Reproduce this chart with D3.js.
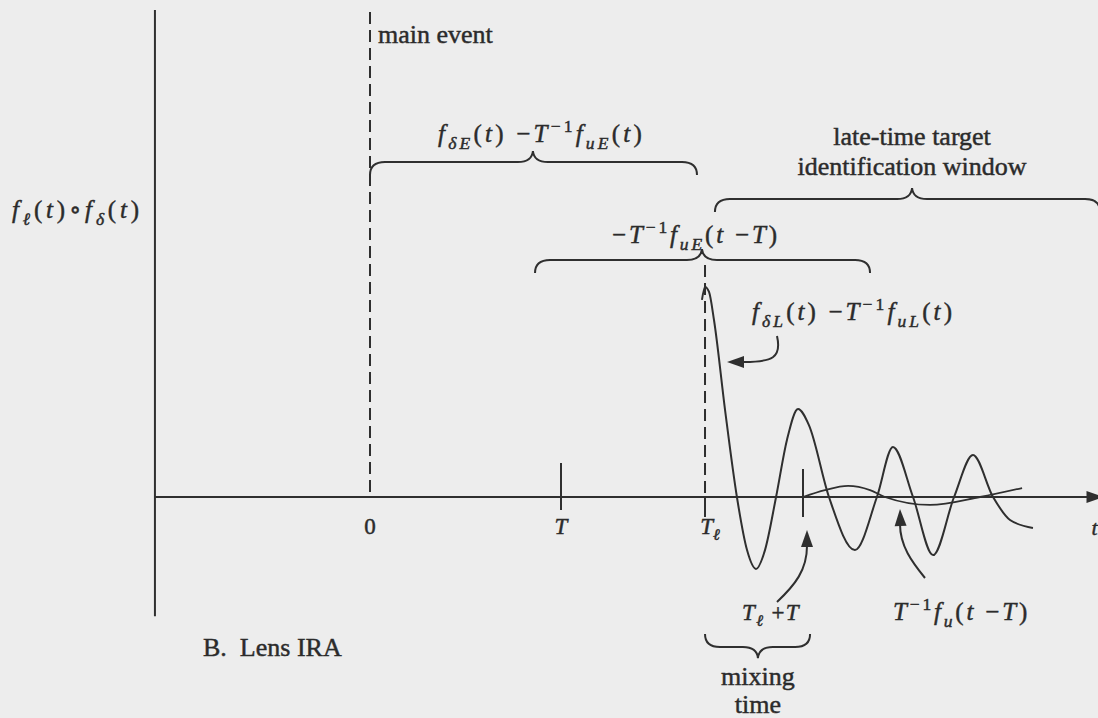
<!DOCTYPE html>
<html>
<head>
<meta charset="utf-8">
<script src="https://cdn.jsdelivr.net/npm/d3@7"></script>
<style>
  html, body { margin: 0; padding: 0; background: #ededed; }
  svg { display: block; }
  text { fill: #2b2b2b; stroke: #2b2b2b; stroke-width: 0.45px; white-space: pre; }
</style>
</head>
<body>
<script>
// time is in units of the clock period T, amplitude relative to the first late-time peak
const tickTimes = [0, 1, 1.754, 2.267];
const tickNames = ["0", "T", "T_{ℓ}", "T_{ℓ} +T"];

// f_δL(t) - T^-1 f_uL(t)
const lateTimes = [1.738, 1.754, 1.775, 1.801, 1.859, 1.921, 1.974, 2.021, 2.068, 2.126,
  2.183, 2.241, 2.298, 2.403, 2.539, 2.654, 2.738, 2.843, 2.948, 3.058, 3.157, 3.262, 3.351, 3.471];
const lateValues = [0.943, 1.005, 0.981, 0.847, 0.416, 0, -0.254, -0.344, -0.254, 0,
  0.273, 0.421, 0.344, 0, -0.254, 0, 0.239, 0, -0.278, 0, 0.201, 0, -0.110, -0.148];

// T^-1 f_u(t - T)
const shiftTimes = [2.267, 2.382, 2.503, 2.618, 2.696, 2.932, 3.194, 3.414];
const shiftValues = [0, 0.033, 0.053, 0.033, 0, -0.038, 0, 0.043];

// braces: span and tip in time, level in amplitude
const braceFrom = [0, 1.806, 0.864, 1.754];
const braceTo = [1.712, 3.822, 2.618, 2.304];
const braceTip = [0.853, 2.838, 1.738, 2.031];
const braceLevel = [1.603, 1.426, 1.134, -0.718];

// dashed event markers
const eventTimes = [0, 1.754];
const eventTops = [2.32, 1.11];

const timeRange = [-1.126, 3.83];
const ampRange = [-0.57, 2.33];

const mainEventText = "main event";
const windowText = ["late-time target", "identification window"];
const mixingText = ["mixing", "time"];
const captionText = "B.  Lens IRA";
const yLabel = "f_{ℓ}(t)∘f_{δ}(t)";
const earlyLabel = "f_{δE}(t) −T^{−1}f_{uE}(t)";
const shiftedLabel = "−T^{−1}f_{uE}(t −T)";
const lateLabel = "f_{δL}(t) −T^{−1}f_{uL}(t)";
const prepulseLabel = "T^{−1}f_{u}(t −T)";

const W = 1098, H = 718;
const INK = "#2f2f2f";
const SERIF = "'Liberation Serif', 'Times New Roman', Times, 'Noto Serif', 'DejaVu Serif', serif";

const x = d3.scaleLinear().domain([0, 1]).range([370, 561]);
const y = d3.scaleLinear().domain([0, 1]).range([497, 288]);

const svg = d3.select("body").append("svg")
  .attr("width", W).attr("height", H)
  .attr("xmlns", "http://www.w3.org/2000/svg");

svg.append("rect").attr("width", W).attr("height", H).attr("fill", "#ededed");

const ROMAN = "()−+0123456789∘ ";

function parseMath(s) {
  const out = [];
  let i = 0;
  while (i < s.length) {
    if ((s[i] === "_" || s[i] === "^") && s[i + 1] === "{") {
      const j = s.indexOf("}", i);
      out.push({ t: s.slice(i + 2, j), k: s[i] === "_" ? "sub" : "sup" });
      i = j + 1;
    } else {
      let j = i;
      while (j < s.length && !((s[j] === "_" || s[j] === "^") && s[j + 1] === "{")) j++;
      out.push({ t: s.slice(i, j), k: "base" });
      i = j;
    }
  }
  return out;
}

function mathText(src, px, py, size, anchor, width) {
  const t = svg.append("text")
    .attr("x", px).attr("y", py)
    .attr("font-family", SERIF)
    .attr("font-size", size)
    .attr("text-anchor", anchor);
  let shift = 0;
  parseMath(src).forEach((seg) => {
    const target = seg.k === "sub" ? 0.28 * size : seg.k === "sup" ? -0.42 * size : 0;
    const fs = seg.k === "base" ? size : 0.7 * size;
    // split into roman / italic runs
    const runs = [];
    for (const ch of seg.t) {
      const it = seg.k === "sup" ? false : !ROMAN.includes(ch);
      if (runs.length && runs[runs.length - 1].it === it) runs[runs.length - 1].s += ch;
      else runs.push({ s: ch, it });
    }
    runs.forEach((r) => {
      t.append("tspan")
        .attr("dy", target - shift)
        .attr("font-size", fs)
        .attr("font-style", r.it ? "italic" : "normal")
        .text(r.s);
      shift = target;
    });
  });
  if (width) {
    const w = t.node().getComputedTextLength();
    const n = t.text().length;
    t.style("letter-spacing", Math.max(0, (width - w) / n).toFixed(2) + "px");
  }
  return t;
}

function plainText(s, px, py, anchor) {
  return svg.append("text")
    .attr("x", px).attr("y", py)
    .attr("font-family", SERIF)
    .attr("font-size", 26)
    .attr("text-anchor", anchor)
    .text(s);
}

function bracePath(x0, x1, xm, yl, s) {
  const d = 13 * s, tip = 11 * s, r = 15;
  return `M${x0},${yl + d} Q${x0},${yl} ${x0 + r},${yl} L${xm - r},${yl} ` +
    `Q${xm - 1},${yl} ${xm},${yl - tip} Q${xm + 1},${yl} ${xm + r},${yl} ` +
    `L${x1 - r},${yl} Q${x1},${yl} ${x1},${yl + d}`;
}

function arrowHead(tx, ty, angle) {
  const a = angle * Math.PI / 180, L = 17, w = 6;
  const ux = Math.cos(a), uy = Math.sin(a);
  const bx = tx - L * ux, by = ty - L * uy;
  svg.append("path")
    .attr("d", `M${tx},${ty} L${bx - w * uy},${by + w * ux} L${bx + w * uy},${by - w * ux} Z`)
    .attr("fill", INK);
}

const strokeStyle = (sel) => sel.attr("fill", "none").attr("stroke", INK).attr("stroke-width", 2);

// axes
svg.append("line")
  .attr("x1", x(timeRange[0])).attr("x2", x(timeRange[0]))
  .attr("y1", y(ampRange[1])).attr("y2", y(ampRange[0]))
  .call(strokeStyle);
svg.append("line")
  .attr("x1", x(timeRange[0])).attr("x2", x(timeRange[1]))
  .attr("y1", y(0)).attr("y2", y(0))
  .call(strokeStyle);
arrowHead(x(timeRange[1]) + 2, y(0), 0);
mathText("t", x(timeRange[1]) - 10, y(0) + 38, 22, "start");

// dashed event lines
eventTimes.forEach((t, i) => {
  svg.append("line")
    .attr("x1", x(t)).attr("x2", x(t))
    .attr("y1", y(eventTops[i])).attr("y2", y(0))
    .attr("stroke-dasharray", "12,6")
    .call(strokeStyle);
});

// ticks
const tickReach = [[0, 0], [34, 13], [0, 20], [28, 20]];
tickTimes.forEach((t, i) => {
  if (!tickReach[i][0] && !tickReach[i][1]) return;
  svg.append("line")
    .attr("x1", x(t)).attr("x2", x(t))
    .attr("y1", y(0) - tickReach[i][0]).attr("y2", y(0) + tickReach[i][1])
    .call(strokeStyle);
});
mathText(tickNames[0], x(tickTimes[0]), 534, 23, "middle");
mathText(tickNames[1], x(tickTimes[1]), 534, 23, "middle");
mathText(tickNames[2], x(tickTimes[2]) + 5, 534, 23, "middle");
mathText(tickNames[3], x(tickTimes[3]) - 32, 620, 23, "middle", 58);

// curves
const line = d3.line().x((d) => x(d[0])).y((d) => y(d[1])).curve(d3.curveMonotoneX);
svg.append("path")
  .attr("d", line(d3.zip(lateTimes, lateValues)))
  .call(strokeStyle);
svg.append("path")
  .attr("d", line(d3.zip(shiftTimes, shiftValues)))
  .call(strokeStyle)
  .attr("stroke-width", 1.8);

// braces
braceFrom.forEach((t0, i) => {
  svg.append("path")
    .attr("d", bracePath(x(t0), x(braceTo[i]), x(braceTip[i]), y(braceLevel[i]), braceLevel[i] > 0 ? 1 : -1))
    .call(strokeStyle);
});

// labels
plainText(mainEventText, x(0) + 8, 43, "start");
plainText(windowText[0], x(braceTip[1]), 145, "middle");
plainText(windowText[1], x(braceTip[1]), 175, "middle");
plainText(mixingText[0], x(braceTip[3]), 685, "middle");
plainText(mixingText[1], x(braceTip[3]), 713, "middle");
plainText(captionText, 203, 656, "start");

mathText(yLabel, 12, 218, 25, "start", 131);
mathText(earlyLabel, 438, 142, 25, "start", 207);
mathText(shiftedLabel, 612, 243, 25, "start", 168);
mathText(lateLabel, 752, 320, 25, "start", 203);
mathText(prepulseLabel, 893, 620, 25, "start", 137);

// pointer arrows
svg.append("path").attr("d", "M777,336 C782,358 772,362 744,362").call(strokeStyle);
arrowHead(x(tickTimes[2]) + 22, 362, 180);

const tt = x(tickTimes[3]);
svg.append("path").attr("d", `M${tt - 26},602 C${tt - 8},585 ${tt + 4},570 ${tt + 4},546`).call(strokeStyle);
arrowHead(tt + 4, 530, -90);

svg.append("path").attr("d", "M925,578 C912,562 900,546 900,524").call(strokeStyle);
arrowHead(900, 509, -92);
</script>
</body>
</html>
